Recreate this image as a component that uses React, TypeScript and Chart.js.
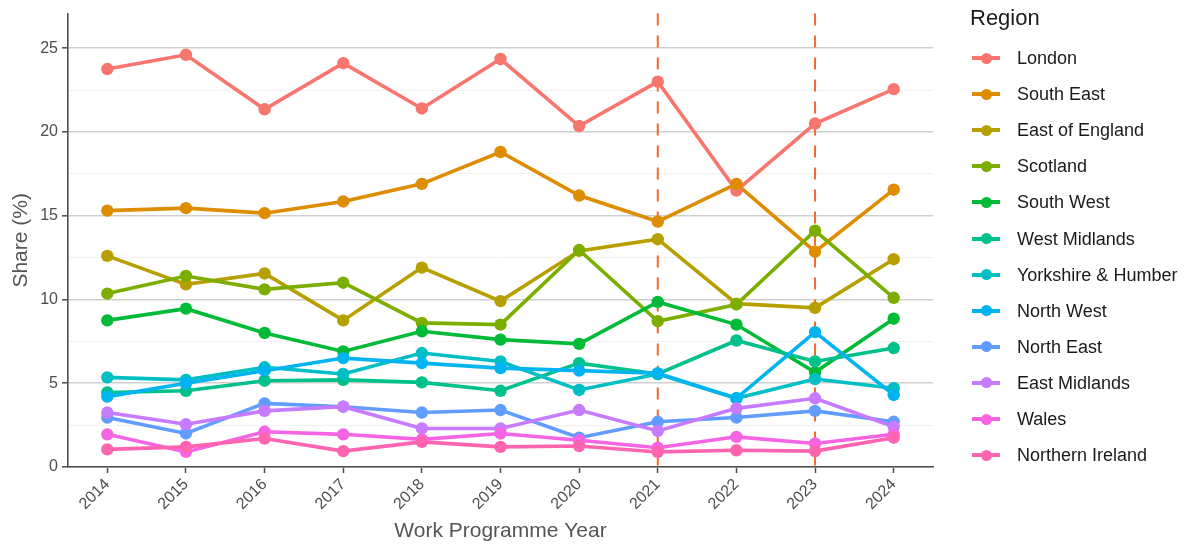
import React, { useEffect, useRef } from "react";
import { Chart, registerables } from "chart.js";

Chart.register(...registerables);

const years = ["2014", "2015", "2016", "2017", "2018", "2019", "2020", "2021", "2022", "2023", "2024"];
const markedYears = ["2021", "2023"];

const regions = [
  "London", "South East", "East of England", "Scotland", "South West", "West Midlands",
  "Yorkshire & Humber", "North West", "North East", "East Midlands", "Wales", "Northern Ireland",
];
const colors = [
  "#F8766D", "#DE8C00", "#B79F00", "#7CAE00", "#00BA38", "#00C08B",
  "#00BFC4", "#00B4F0", "#619CFF", "#C77CFF", "#F564E3", "#FF64B0",
];

const london = [23.75, 24.6, 21.35, 24.1, 21.4, 24.35, 20.35, 23.0, 16.5, 20.5, 22.55];
const southEast = [15.3, 15.45, 15.15, 15.85, 16.9, 18.8, 16.2, 14.65, 16.9, 12.85, 16.55];
const eastOfEngland = [12.6, 10.9, 11.55, 8.75, 11.9, 9.9, 12.9, 13.6, 9.75, 9.5, 12.4];
const scotland = [10.35, 11.4, 10.6, 11.0, 8.6, 8.5, 12.95, 8.7, 9.7, 14.1, 10.1];
const southWest = [8.75, 9.45, 8.0, 6.9, 8.1, 7.6, 7.35, 9.85, 8.5, 5.65, 8.85];
const westMidlands = [4.45, 4.55, 5.15, 5.2, 5.05, 4.55, 6.2, 5.55, 7.55, 6.3, 7.1];
const yorkshire = [5.35, 5.2, 5.95, 5.55, 6.8, 6.3, 4.6, 5.55, 4.1, 5.25, 4.7];
const northWest = [4.2, 5.0, 5.75, 6.5, 6.2, 5.9, 5.75, 5.6, 4.1, 8.05, 4.3];
const northEast = [2.95, 2.0, 3.8, 3.6, 3.25, 3.4, 1.75, 2.7, 2.95, 3.35, 2.7];
const eastMidlands = [3.25, 2.55, 3.35, 3.6, 2.3, 2.3, 3.4, 2.15, 3.5, 4.1, 2.4];
const wales = [1.95, 0.9, 2.1, 1.95, 1.65, 2.0, 1.6, 1.15, 1.8, 1.4, 1.95];
const northernIreland = [1.05, 1.2, 1.7, 0.95, 1.5, 1.2, 1.25, 0.9, 1.0, 0.95, 1.75];

const seriesValues = [
  london, southEast, eastOfEngland, scotland, southWest, westMidlands,
  yorkshire, northWest, northEast, eastMidlands, wales, northernIreland,
];

const yTicks = [0, 5, 10, 15, 20, 25];

const FONT = "'Liberation Sans', Arial, Helvetica, sans-serif";
const AXIS_GREY = "#4d4d4d";

const PLOT_LEFT = 68;
const PLOT_RIGHT = 933;
const PLOT_TOP = 12;
const PLOT_BOTTOM = 467;
const W = 1188;
const H = 544;

const vlinePlugin = {
  id: "vlines",
  beforeDatasetsDraw(chart: any) {
    const { ctx, chartArea, scales } = chart;
    ctx.save();
    ctx.strokeStyle = "#F26B2C";
    ctx.lineWidth = 2;
    ctx.setLineDash([12, 10]);
    for (const yr of markedYears) {
      const x = scales.x.getPixelForValue(years.indexOf(yr));
      ctx.beginPath();
      ctx.moveTo(x, chartArea.top);
      ctx.lineTo(x, chartArea.bottom);
      ctx.stroke();
    }
    ctx.restore();
  },
};

export default function App() {
  const ref = useRef<HTMLCanvasElement>(null);

  useEffect(() => {
    if (!ref.current) return;
    const n = regions.length;
    const lineSets = regions.map((r, i) => ({
      label: r,
      data: seriesValues[i],
      borderColor: colors[i],
      backgroundColor: colors[i],
      borderWidth: 3.6,
      pointRadius: 0,
      pointHoverRadius: 0,
      tension: 0,
      order: 2 * n - i,
    }));
    const pointSets = regions.map((r, i) => ({
      label: r + " points",
      data: seriesValues[i],
      borderColor: colors[i],
      backgroundColor: colors[i],
      showLine: false,
      pointRadius: 6.2,
      pointBorderWidth: 0,
      pointHoverRadius: 6.2,
      order: n - i,
    }));

    const chart = new Chart(ref.current, {
      type: "line",
      data: { labels: years, datasets: [...lineSets, ...pointSets] as any },
      plugins: [vlinePlugin],
      options: {
        animation: false,
        responsive: false,
        maintainAspectRatio: false,
        layout: { padding: { top: PLOT_TOP, right: W - PLOT_RIGHT, left: 0, bottom: 0 } },
        plugins: { legend: { display: false }, tooltip: { enabled: false } },
        scales: {
          x: {
            type: "category",
            offset: true,
            grid: {
              display: true,
              drawOnChartArea: false,
              drawTicks: true,
              tickLength: 6,
              tickColor: AXIS_GREY,
              tickWidth: 1.5,
              offset: false,
            },
            border: { display: true, color: AXIS_GREY, width: 1.6 },
            ticks: {
              autoSkip: false,
              minRotation: 45,
              maxRotation: 45,
              padding: 2,
              color: AXIS_GREY,
              font: { family: FONT, size: 16 },
            },
            title: {
              display: true,
              text: "Work Programme Year",
              color: "#555555",
              font: { family: FONT, size: 21 },
              padding: { top: 0, bottom: 0 },
            },
            afterFit(scale: any) {
              scale.height = H - PLOT_BOTTOM;
            },
          },
          y: {
            type: "linear",
            min: 0,
            max: 27.06,
            afterBuildTicks(scale: any) {
              const t: any[] = [];
              for (let v = 0; v <= 25.01; v += 2.5) t.push({ value: v });
              scale.ticks = t;
            },
            grid: {
              display: true,
              drawTicks: true,
              tickLength: 6,
              color: (c: any) => (yTicks.includes(c.tick?.value) ? "#cfcfcf" : "#f1f1f1"),
              lineWidth: (c: any) => (yTicks.includes(c.tick?.value) ? 1.6 : 1),
              tickColor: (c: any) => (yTicks.includes(c.tick?.value) ? AXIS_GREY : "rgba(0,0,0,0)"),
              tickWidth: 1.5,
            },
            border: { display: true, color: AXIS_GREY, width: 1.6 },
            ticks: {
              padding: 4,
              color: AXIS_GREY,
              font: { family: FONT, size: 16 },
              callback: (v: any) => (yTicks.includes(Number(v)) ? String(v) : ""),
            },
            title: {
              display: true,
              text: "Share (%)",
              color: "#555555",
              font: { family: FONT, size: 21 },
              padding: { top: 9, bottom: 0 },
            },
            afterFit(scale: any) {
              scale.width = PLOT_LEFT;
            },
          },
        },
      },
    });
    return () => chart.destroy();
  }, []);

  return (
    <div style={{ position: "absolute", left: 0, top: 0, width: W, height: H, background: "#fff", fontFamily: FONT }}>
      <canvas ref={ref} width={W} height={H} style={{ display: "block", width: W, height: H }} />
      <div style={{ position: "absolute", left: 970, top: 5, fontSize: 22, color: "#1a1a1a", lineHeight: "26px" }}>Region</div>
      {regions.map((r, i) => (
        <div key={r} style={{ position: "absolute", left: 970, top: 58 + i * 36.1 - 12, height: 24, width: 218 }}>
          <div style={{ position: "absolute", left: 2, top: 10, width: 28, height: 4, background: colors[i] }} />
          <div style={{ position: "absolute", left: 10.5, top: 6.5, width: 11, height: 11, borderRadius: 5.5, background: colors[i] }} />
          <div style={{ position: "absolute", left: 47, top: 0, fontSize: 18, lineHeight: "24px", color: "#1a1a1a", whiteSpace: "nowrap" }}>{r}</div>
        </div>
      ))}
    </div>
  );
}
